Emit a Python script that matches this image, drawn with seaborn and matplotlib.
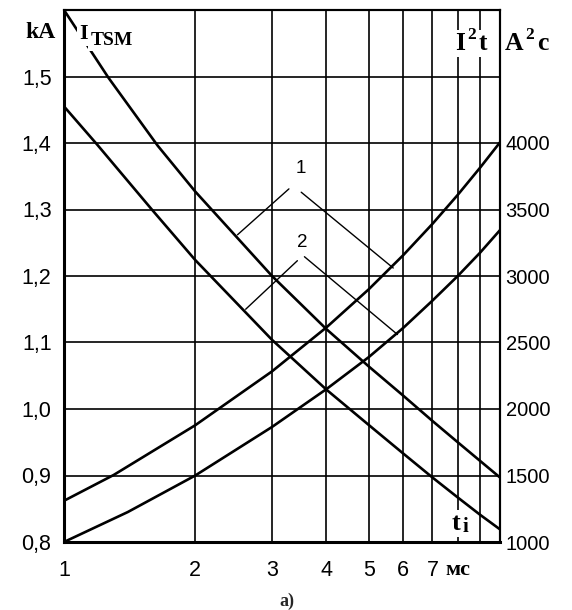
import matplotlib
matplotlib.use("Agg")
import matplotlib.pyplot as plt
from matplotlib.ticker import NullLocator
import seaborn as sns
import pandas as pd

# ---------------- data ----------------
# I_TSM curves (left axis, kA) vs pulse time t_i (ms)
itsm1_t = [1.0, 1.265, 1.64, 2, 3, 4, 5, 6, 7, 8, 9, 10]
itsm1_ka = [1.600, 1.498, 1.396, 1.327, 1.200, 1.120, 1.064, 1.020, 0.982, 0.950, 0.922, 0.897]
itsm2_t = [1.0, 1.19, 1.59, 2, 3, 4, 5, 6, 7, 8, 9, 10]
itsm2_ka = [1.455, 1.398, 1.300, 1.224, 1.104, 1.029, 0.976, 0.933, 0.897, 0.867, 0.841, 0.819]
# I^2t curves (right axis, A^2c)
i2t1_t = [1, 1.3, 2, 3, 4, 5, 6, 7, 8, 9, 10]
i2t1_a2s = [1310, 1504, 1878, 2283, 2614, 2900, 3157, 3392, 3610, 3814, 4005]
i2t2_t = [1, 1.4, 2, 3, 4, 5, 6, 7, 8, 9, 10]
i2t2_a2s = [1000, 1225, 1500, 1865, 2150, 2390, 2610, 2815, 3000, 3175, 3345]

x_ticks = [1, 2, 3, 4, 5, 6, 7, 8, 9, 10]
x_labels = ["1", "2", "3", "4", "5", "6", "7", "мс", "", ""]
ka_ticks = [0.8, 0.9, 1.0, 1.1, 1.2, 1.3, 1.4, 1.5]
ka_labels = ["0,8", "0,9", "1,0", "1,1", "1,2", "1,3", "1,4", "1,5"]
a2s_ticks = [1000, 1500, 2000, 2500, 3000, 3500, 4000]
a2s_labels = ["1000", "1500", "2000", "2500", "3000", "3500", "4000"]

# curve labels and their leader lines (data coords)
curve_labels = ["1", "2"]
label_pos = [(3.49, 1.362), (3.52, 1.251)]
leaders = [
    [((3.28, 1.331), (2.50, 1.262)), ((3.50, 1.326), (5.69, 1.212))],
    [((3.43, 1.223), (2.61, 1.150)), ((3.56, 1.229), (5.82, 1.112))],
]

# ---------------- style ----------------
sns.set_theme(style="white")
plt.rcParams["font.family"] = ["Liberation Sans", "DejaVu Sans"]

W, H = 572, 610
fig = plt.figure(figsize=(W / 100, H / 100), dpi=100)
fig.patch.set_facecolor("white")
ax = fig.add_axes([64 / W, 1 - 542 / H, 436 / W, 532 / H])
ax2 = ax.twinx()

curve_lw = 1.9
df1 = pd.DataFrame({"t": itsm1_t, "v": itsm1_ka})
df2 = pd.DataFrame({"t": itsm2_t, "v": itsm2_ka})
df3 = pd.DataFrame({"t": i2t1_t, "v": i2t1_a2s})
df4 = pd.DataFrame({"t": i2t2_t, "v": i2t2_a2s})
sns.lineplot(data=df1, x="t", y="v", ax=ax, color="black", lw=curve_lw, zorder=2)
sns.lineplot(data=df2, x="t", y="v", ax=ax, color="black", lw=curve_lw, zorder=2)
sns.lineplot(data=df3, x="t", y="v", ax=ax2, color="black", lw=curve_lw)
sns.lineplot(data=df4, x="t", y="v", ax=ax2, color="black", lw=curve_lw)

ax.set_xscale("log")
ax.set_xlim(1, 10)
ax.set_ylim(0.8, 1.6)
ax2.set_ylim(1000, 5000)

ax.set_xticks(x_ticks)
ax.set_xticklabels(x_labels)
ax.xaxis.set_minor_locator(NullLocator())
ax.set_yticks(ka_ticks)
ax.set_yticklabels(ka_labels)
ax2.set_yticks(a2s_ticks)
ax2.set_yticklabels(a2s_labels)
ax.set_xlabel("")
ax.set_ylabel("")
ax2.set_ylabel("")

ax.tick_params(axis="x", length=0, pad=13, labelsize=15.5, colors="black")
ax.tick_params(axis="y", length=0, pad=9, labelsize=15.5, colors="black")
ax2.tick_params(axis="y", length=0, pad=4, labelsize=14.5, colors="black")
for lab in ax.get_xticklabels():
    if lab.get_text() == "мс":
        lab.set_fontfamily("Liberation Serif")
        lab.set_fontweight("bold")
        lab.set_fontsize(16)

ax.grid(True, which="major", color="black", lw=1.2)
ax.set_axisbelow(True)
ax2.grid(False)

for a in (ax, ax2):
    for s in a.spines.values():
        s.set_color("black")
ax.spines["left"].set_linewidth(2.2)
ax.spines["bottom"].set_linewidth(2.2)
ax.spines["top"].set_linewidth(1.5)
ax.spines["right"].set_linewidth(1.5)
ax2.spines["left"].set_visible(False)
ax2.spines["bottom"].set_visible(False)
ax2.spines["top"].set_linewidth(1.5)
ax2.spines["right"].set_linewidth(1.5)

# curve numbers with leader lines
for lab, pos, segs in zip(curve_labels, label_pos, leaders):
    ax.text(pos[0], pos[1], lab, fontsize=13.5, ha="center", va="center", color="black")
    for start, end in segs:
        ax.annotate("", xy=end, xytext=start,
                    arrowprops=dict(arrowstyle="-", lw=1.0, color="black",
                                    shrinkA=0, shrinkB=0))

# axis titles (bold serif, as in the original)
serif = dict(fontfamily="Liberation Serif", fontweight="bold", color="black")
wb = dict(facecolor="white", edgecolor="none", pad=1.5)
T = ax.transAxes


def lbl(x, y, s, size, box=False):
    kw = dict(transform=T, ha="left", va="baseline", fontsize=size, **serif)
    if box:
        kw["bbox"] = wb
        kw["zorder"] = 5
    ax.text(x, y, s, **kw)


ax.text(-0.055, 0.947, "kA", transform=T, ha="center", va="baseline", fontsize=17, **serif)
# I_TSM
lbl(0.034, 0.9455, "I", 16, box=True)
lbl(0.061, 0.934, "TSM", 14, box=True)
# I^2 t
lbl(0.897, 0.925, "I", 18.5, box=True)
lbl(0.924, 0.945, "2", 12.5, box=True)
lbl(0.950, 0.925, "t", 18.5, box=True)
# A^2 c
lbl(1.011, 0.925, "A", 18.5)
lbl(1.057, 0.945, "2", 12.5)
lbl(1.085, 0.925, "c", 18.5)
# t_i
lbl(0.889, 0.0226, "t", 19, box=True)
lbl(0.915, 0.0188, "i", 15, box=True)

fig.text(287 / W, 1 - 601 / H, "a)", ha="center", va="center", fontsize=13,
         fontweight="bold", fontfamily="Liberation Serif")

fig.savefig("out.png", dpi=100, facecolor="white")
